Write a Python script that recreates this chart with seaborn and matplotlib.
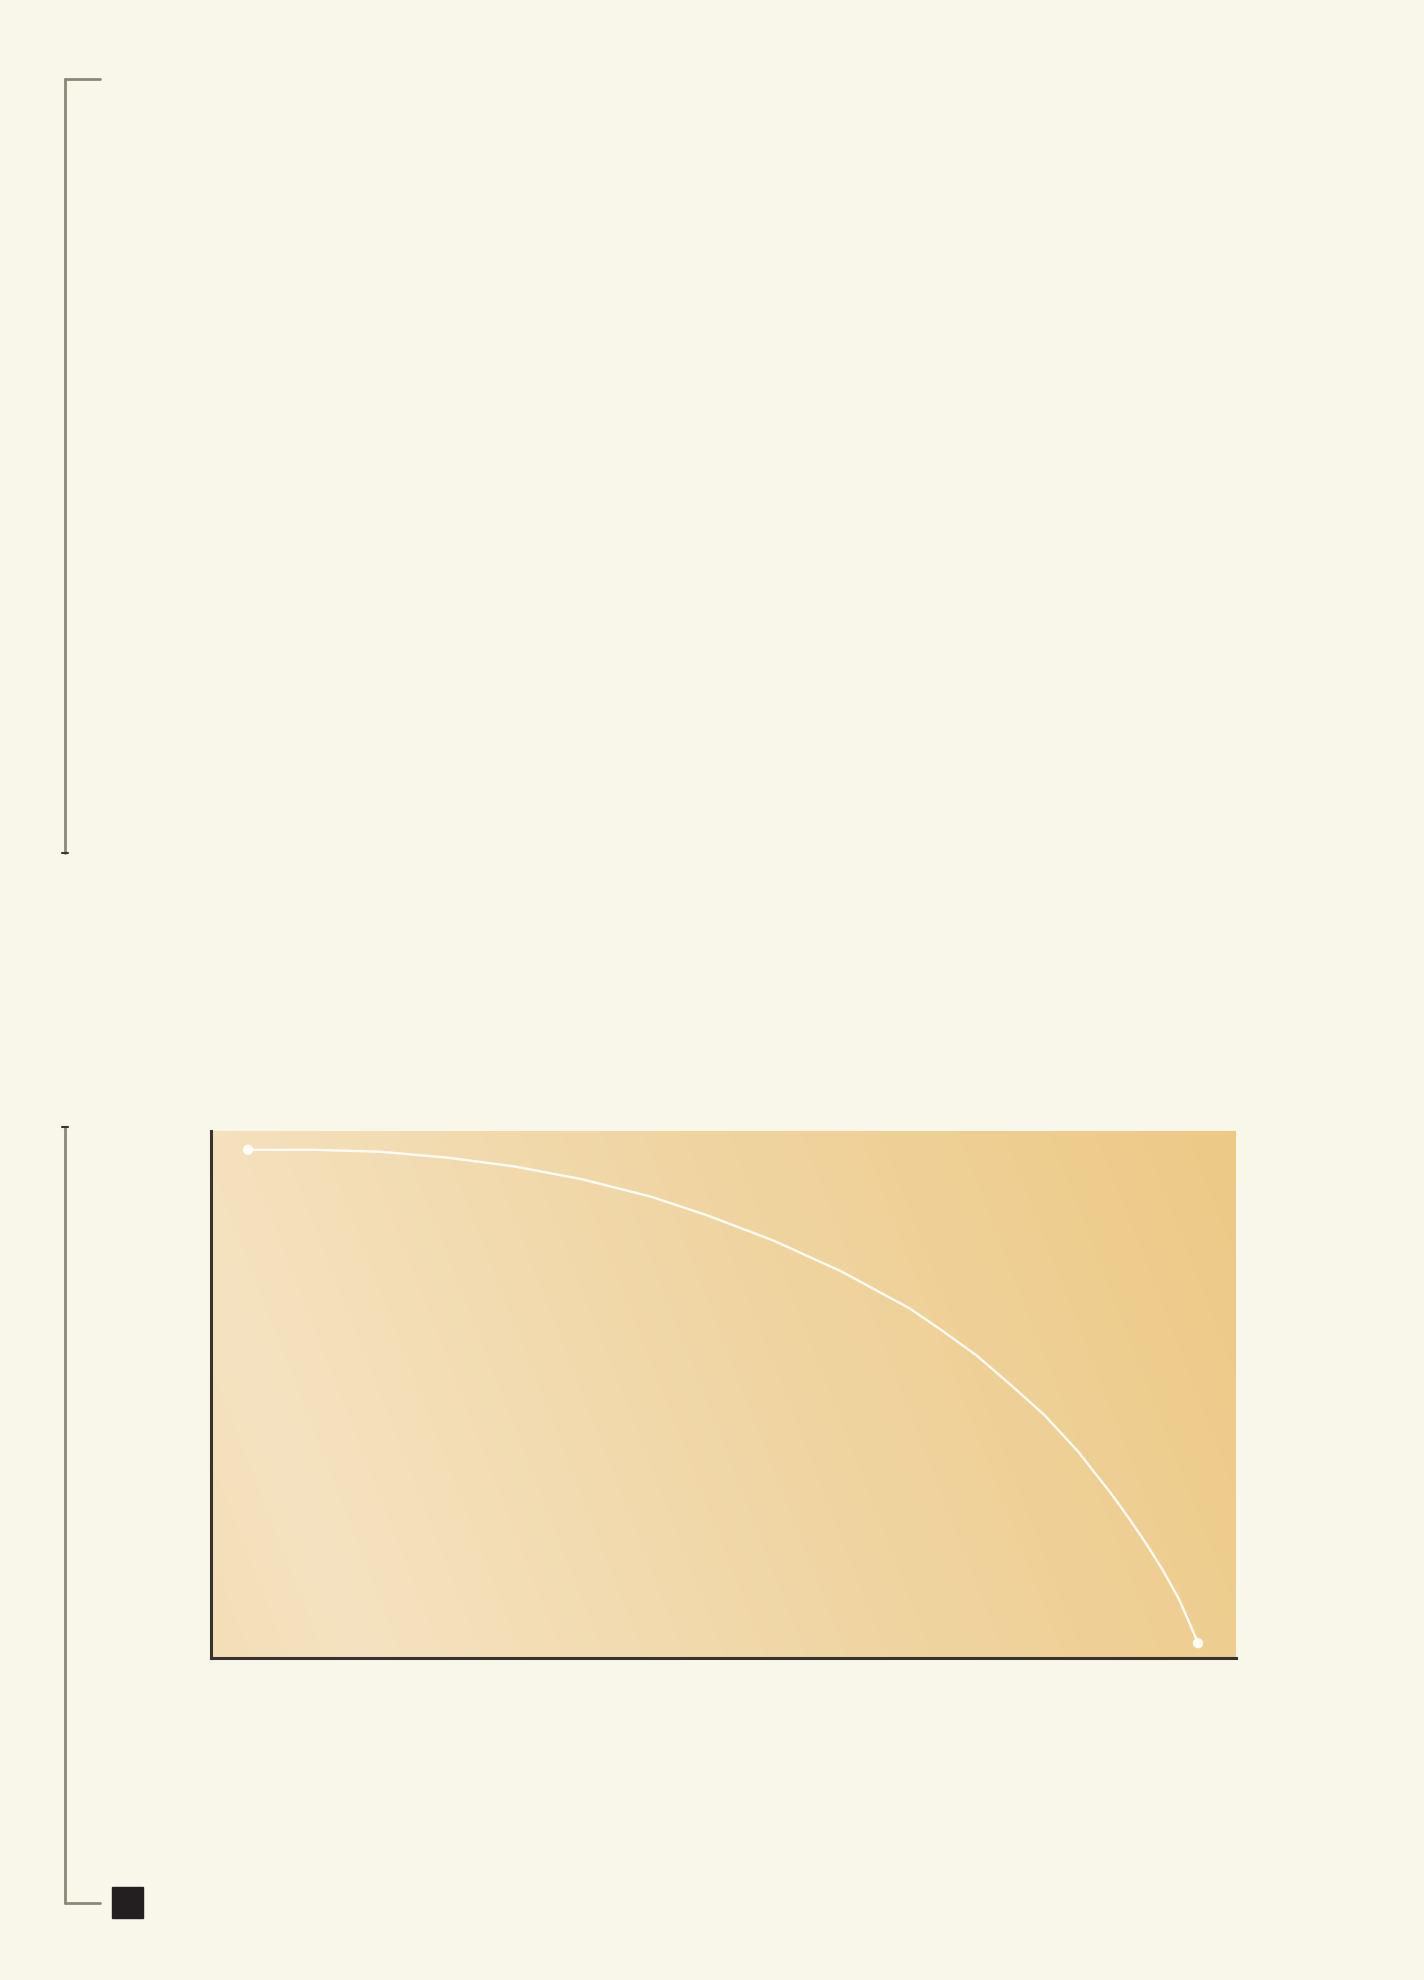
import numpy as np
import pandas as pd
import matplotlib
matplotlib.use("Agg")
import matplotlib.pyplot as plt
from matplotlib.lines import Line2D
from matplotlib.patches import Rectangle
from matplotlib.colors import LinearSegmentedColormap
import seaborn as sns

# ---- data (arbitrary units 0-100) ----
x_vals = [0, 6.8, 13.9, 21.0, 28.1, 35.2, 42.4, 48.2, 55.3, 62.4, 69.6, 73.1,
          76.7, 80.2, 83.8, 87.4, 89.1, 90.9, 92.7, 94.5, 96.3, 98.0, 99.1, 100]
y_vals = [100, 100, 99.6, 98.4, 96.6, 94.0, 90.5, 86.8, 81.6, 75.4, 67.9, 63.3,
          58.3, 52.5, 46.3, 38.8, 34.6, 30.2, 25.4, 20.3, 14.8, 8.9, 4.1, 0]
end_x = [x_vals[0], x_vals[-1]]
end_y = [y_vals[0], y_vals[-1]]

df = pd.DataFrame({"x": x_vals, "y": y_vals})
ends = pd.DataFrame({"x": end_x, "y": end_y})

sns.set_theme(style="white")
BG = "#F9F6EA"
W, H = 1424, 1981
fig = plt.figure(figsize=(W / 100, H / 100), dpi=100, facecolor=BG)

# axes placement in pixels
L, R, T, B = 211, 1236, 1132, 1659
ax = fig.add_axes([L / W, 1 - B / H, (R - L) / W, (B - T) / H])
ax.set_facecolor(BG)

# gradient background
cmap = LinearSegmentedColormap.from_list(
    "g", [(0.0, "#F3DEB6"), (0.12, "#F5E2C0"), (0.55, "#F0D5A2"), (1.0, "#EDC986")])
gx, gy = np.meshgrid(np.linspace(0, 1, 400), np.linspace(0, 1, 200))
t = (gx + 0.2 * gy) / 1.2
ax.imshow(t, extent=[0, 1, 0, 1], origin="lower", transform=ax.transAxes,
          cmap=cmap, vmin=0, vmax=1, aspect="auto", zorder=0, interpolation="bicubic")

sns.lineplot(data=df, x="x", y="y", ax=ax, color="#FFFDF5", linewidth=1.7,
             zorder=3, sort=False, solid_joinstyle="round", solid_capstyle="round")
sns.scatterplot(data=ends, x="x", y="y", ax=ax, color="#FFFDF5", s=55,
                edgecolor="none", zorder=4)

ax.set_xlim(-3.9, 104.0)
ax.set_ylim(-3.0, 103.8)
ax.set_xticks([])
ax.set_yticks([])
ax.set_xlabel("")
ax.set_ylabel("")
for s in ["top", "right"]:
    ax.spines[s].set_visible(False)
for s in ["left", "bottom"]:
    ax.spines[s].set_color("#38332D")
    ax.spines[s].set_linewidth(2.2)

# decorative brackets (figure pixel coords)
def fx(px):
    return px / W

def fy(py):
    return 1 - py / H

bc = "#8C8878"
lines = [
    ([65, 65], [80, 854], bc, 2.0),
    ([65, 100], [80, 80], bc, 2.0),
    ([62, 68], [854, 854], "#3A3530", 1.5),
    ([65, 65], [1128, 1904], bc, 2.0),
    ([65, 100], [1904, 1904], bc, 2.0),
    ([62, 68], [1128, 1128], "#3A3530", 1.5),
]
for xs, ys, c, lw in lines:
    fig.add_artist(Line2D([fx(v) for v in xs], [fy(v) for v in ys],
                          color=c, linewidth=lw, transform=fig.transFigure))

fig.add_artist(Rectangle((fx(112), fy(1919)), 31 / W, 31 / H,
                         transform=fig.transFigure, color="#231F20"))

fig.savefig("out.png", dpi=100, facecolor=BG)
